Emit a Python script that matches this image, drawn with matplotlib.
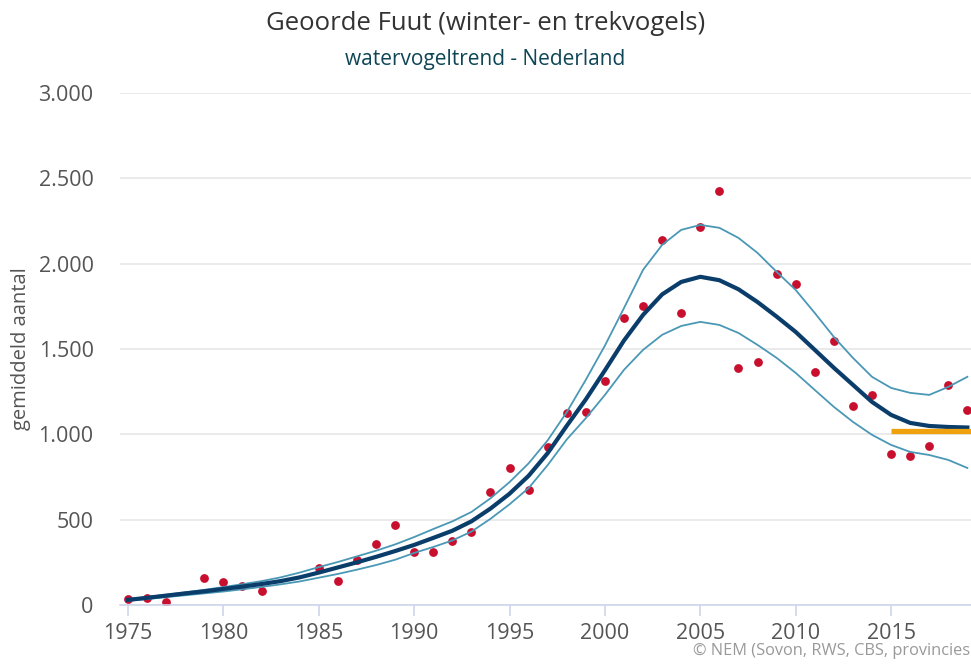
import matplotlib.pyplot as plt
import numpy as np

plt.rcParams['font.family'] = ['Open Sans', 'DejaVu Sans']

years = np.arange(1975, 2020)

# yearly index (dots); nan = no count that year
counts = [35, 41, 18, np.nan, 158, 135, 111, 82, np.nan, np.nan,
          217, 141, 264, 357, 469, 311, 311, 375, 428, 662,
          803, 674, 926, 1125, 1131, 1313, 1682, 1753, 2140, 1712,
          2216, 2427, 1389, 1424, 1940, 1882, 1366, 1547, 1166, 1231,
          885, 873, 932, 1290, 1143]

trend = [30, 42, 55, 68, 80, 94, 108, 123, 140, 162,
         190, 220, 250, 282, 316, 352, 393, 435, 490, 565,
         652, 757, 890, 1050, 1205, 1375, 1550, 1700, 1820, 1893,
         1923, 1903, 1850, 1775, 1690, 1600, 1495, 1390, 1290, 1190,
         1114, 1067, 1049, 1043, 1040]

upper = [35, 47, 60, 74, 89, 105, 122, 140, 162, 190,
         222, 252, 285, 318, 355, 398, 445, 490, 545, 625,
         720, 830, 965, 1130, 1320, 1520, 1740, 1964, 2110, 2198,
         2227, 2210, 2151, 2063, 1952, 1846, 1711, 1571, 1448, 1337,
         1272, 1243, 1231, 1278, 1337]

lower = [25, 35, 46, 57, 68, 79, 92, 106, 121, 138,
         160, 182, 207, 234, 265, 305, 340, 378, 430, 505,
         590, 685, 820, 970, 1095, 1231, 1378, 1495, 1583, 1635,
         1659, 1641, 1594, 1524, 1448, 1360, 1260, 1161, 1073, 997,
         938, 897, 879, 850, 803]

recent_years = [2015, 2019.3]
recent_level = [1020, 1020]

fig = plt.figure(figsize=(9.71, 6.64), dpi=100)
ax = fig.add_axes([120 / 971, 1 - 605 / 664, 1 - 120 / 971, (605 - 93) / 664])

ax.scatter(years, counts, s=40, color='#c8102e', zorder=2, linewidths=0)
ax.plot(years, upper, color='#4a98b5', lw=1.3, zorder=3)
ax.plot(years, lower, color='#4a98b5', lw=1.3, zorder=3)
ax.plot(years, trend, color='#0b3d6b', lw=3, zorder=4)
ax.plot(recent_years, recent_level, color='#f0a20e', lw=3.8, zorder=5,
        solid_capstyle='butt')

ax.set_xlim(1974.58, 2019.19)
ax.set_ylim(0, 3000)
ax.set_xticks(range(1975, 2020, 5))
ax.set_yticks(range(0, 3001, 500))
ax.set_yticklabels(['0', '500', '1.000', '1.500', '2.000', '2.500', '3.000'])

ax.grid(axis='y', color='#e6e6e6', lw=1.2)
ax.set_axisbelow(True)
for s in ['top', 'right', 'left']:
    ax.spines[s].set_visible(False)
ax.spines['bottom'].set_color('#ccd6eb')
ax.spines['bottom'].set_linewidth(1.2)
ax.tick_params(axis='x', colors='#ccd6eb', length=8, width=1.2,
               labelcolor='#555555', labelsize=15.5, pad=5)
ax.tick_params(axis='y', length=0, labelcolor='#555555', labelsize=15.5, pad=19)

ax.set_ylabel('gemiddeld aantal', fontsize=14.5, color='#555555')
ax.yaxis.set_label_coords(-0.105, 0.5)

fig.text(0.5, 1 - 23 / 664, 'Geoorde Fuut (winter- en trekvogels)',
         ha='center', va='center', fontsize=18.5, color='#333333')
fig.text(0.5, 1 - 59 / 664, 'watervogeltrend - Nederland',
         ha='center', va='center', fontsize=15, color='#0f4656')
fig.text(0.999, 1 - 651 / 664, '\u00a9 NEM (Sovon, RWS, CBS, provincies',
         ha='right', va='center', fontsize=11.8, color='#999999')

fig.savefig('out.png', dpi=100)
